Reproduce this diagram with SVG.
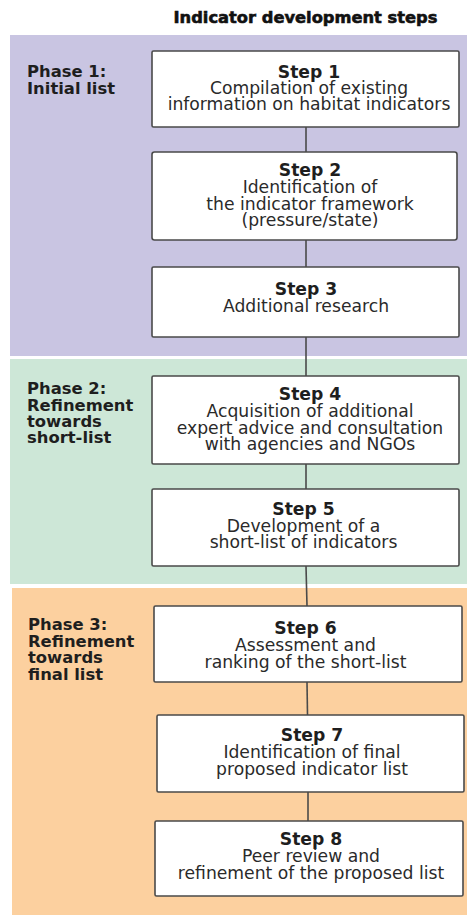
<svg xmlns="http://www.w3.org/2000/svg" width="467" height="915" viewBox="0 0 467 915">
<style>
.band1{fill:#c9c5e2}
.band2{fill:#cde7d7}
.band3{fill:#fcd09f}
.box{fill:#ffffff;stroke:#4a4a4a;stroke-width:1.6}
.conn{stroke:#4a4a4a;stroke-width:1.6;fill:none}
.title{font-family:"DejaVu Sans","Liberation Sans",sans-serif;font-weight:bold;font-size:16.3px;fill:#111;stroke:#111;stroke-width:0.6;text-anchor:middle}
.phase{font-family:"DejaVu Sans","Liberation Sans",sans-serif;font-weight:bold;font-size:16.4px;fill:#1e1e1e}
.step{font-family:"DejaVu Sans","Liberation Sans",sans-serif;font-weight:bold;font-size:17.2px;fill:#1e1e1e;text-anchor:middle}
.desc{font-family:"DejaVu Sans","Liberation Sans",sans-serif;font-size:17.2px;fill:#2a2a2a;text-anchor:middle}
</style>
<rect width="467" height="915" fill="#ffffff"/>
<g id="bands">
<rect class="band1" x="10" y="35" width="457" height="321"/>
<rect class="band2" x="10" y="359" width="457" height="225"/>
<rect class="band3" x="12" y="588" width="455" height="327"/>
</g>
<text class="title" x="305.5" y="22.5">Indicator development steps</text>
<g id="phase1">
<text class="phase" x="27" y="77">Phase 1:</text>
<text class="phase" x="27" y="93.5">Initial list</text>
</g>
<g id="phase2">
<text class="phase" x="27" y="393.5">Phase 2:</text>
<text class="phase" x="27" y="410.5">Refinement</text>
<text class="phase" x="27" y="426.5">towards</text>
<text class="phase" x="27" y="442.5">short-list</text>
</g>
<g id="phase3">
<text class="phase" x="28" y="630">Phase 3:</text>
<text class="phase" x="28" y="647">Refinement</text>
<text class="phase" x="28" y="663">towards</text>
<text class="phase" x="28" y="680">final list</text>
</g>
<g id="connectors">
<line class="conn" x1="306" y1="127" x2="306" y2="152"/>
<line class="conn" x1="306" y1="240" x2="306" y2="267"/>
<line class="conn" x1="306" y1="337" x2="306" y2="376"/>
<line class="conn" x1="306" y1="464" x2="306" y2="489"/>
<line class="conn" x1="306" y1="566" x2="307" y2="606"/>
<line class="conn" x1="307" y1="682" x2="307.5" y2="715"/>
<line class="conn" x1="308" y1="792" x2="308" y2="821"/>
</g>
<g id="step1">
<rect class="box" x="152" y="51" width="307" height="76" rx="1.5"/>
<text class="step" x="309" y="78">Step 1</text>
<text class="desc" x="309" y="94">Compilation of existing</text>
<text class="desc" x="309" y="110">information on habitat indicators</text>
</g>
<g id="step2">
<rect class="box" x="152" y="152" width="305" height="88" rx="2.5"/>
<text class="step" x="310" y="175.5">Step 2</text>
<text class="desc" x="310" y="192.5">Identification of</text>
<text class="desc" x="310" y="209.5">the indicator framework</text>
<text class="desc" x="310" y="226">(pressure/state)</text>
</g>
<g id="step3">
<rect class="box" x="152" y="267" width="307" height="70" rx="1.5"/>
<text class="step" x="306" y="295">Step 3</text>
<text class="desc" x="306" y="311.5">Additional research</text>
</g>
<g id="step4">
<rect class="box" x="152" y="376" width="307" height="88" rx="1.5"/>
<text class="step" x="310" y="400">Step 4</text>
<text class="desc" x="310" y="417">Acquisition of additional</text>
<text class="desc" x="310" y="433.5">expert advice and consultation</text>
<text class="desc" x="310" y="450">with agencies and NGOs</text>
</g>
<g id="step5">
<rect class="box" x="152" y="489" width="307" height="77" rx="1.5"/>
<text class="step" x="303.5" y="514.5">Step 5</text>
<text class="desc" x="303.5" y="531.5">Development of a</text>
<text class="desc" x="303.5" y="548">short-list of indicators</text>
</g>
<g id="step6">
<rect class="box" x="154" y="606" width="308" height="76" rx="1.5"/>
<text class="step" x="305.5" y="634">Step 6</text>
<text class="desc" x="305.5" y="650.5">Assessment and</text>
<text class="desc" x="305.5" y="668">ranking of the short-list</text>
</g>
<g id="step7">
<rect class="box" x="157" y="715" width="307" height="77" rx="1.5"/>
<text class="step" x="312" y="740.5">Step 7</text>
<text class="desc" x="312" y="758">Identification of final</text>
<text class="desc" x="312" y="775">proposed indicator list</text>
</g>
<g id="step8">
<rect class="box" x="155" y="821" width="308" height="75" rx="1.5"/>
<text class="step" x="311" y="845">Step 8</text>
<text class="desc" x="311" y="861.5">Peer review and</text>
<text class="desc" x="311" y="879">refinement of the proposed list</text>
</g>
</svg>
